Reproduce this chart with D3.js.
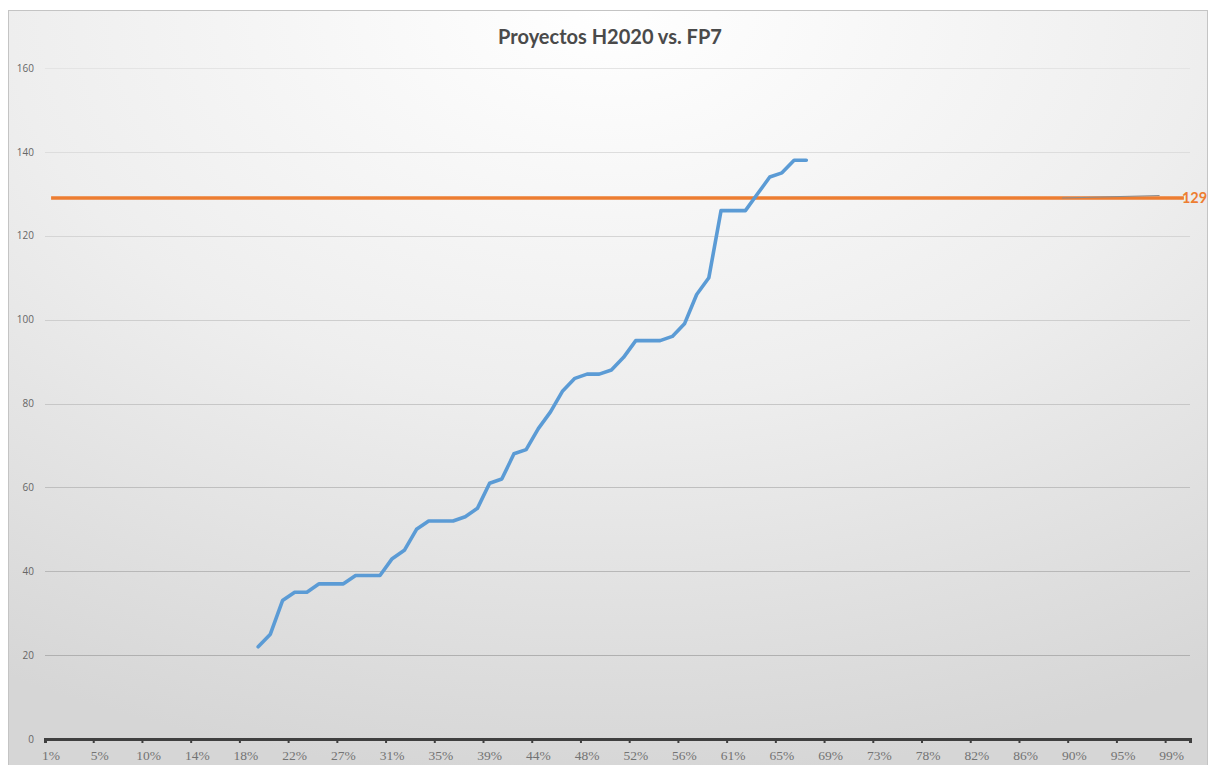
<!DOCTYPE html>
<html>
<head>
<meta charset="utf-8">
<script src="https://cdn.jsdelivr.net/npm/d3@7"></script>
<style>
  body { margin: 0; background: #fff; }
  svg { display: block; }
</style>
</head>
<body>
<div id="chart"></div>
<script>
// x categories: share of the programme elapsed
var categories = ["1%","2%","3%","4%","5%","6%","7%","9%","10%","11%","12%","13%","14%","15%","16%","17%",
  "18%","19%","20%","21%","22%","23%","24%","26%","27%","28%","29%","30%","31%","32%","33%","34%",
  "35%","36%","37%","38%","39%","40%","41%","43%","44%","45%","46%","47%","48%","49%","50%","51%",
  "52%","53%","54%","55%","56%","57%","59%","60%","61%","62%","63%","64%","65%","66%","67%","68%",
  "69%","70%","71%","72%","73%","74%","76%","77%","78%","79%","80%","81%","82%","83%","84%","85%",
  "86%","87%","88%","89%","90%","91%","93%","94%","95%","96%","97%","98%","99%","100%"];

var xTickLabels = ["1%","5%","10%","14%","18%","22%","27%","31%","35%","39%","44%","48%",
  "52%","56%","61%","65%","69%","73%","78%","82%","86%","90%","95%","99%"];

var yTicks = [0, 20, 40, 60, 80, 100, 120, 140, 160];

// H2020 projects, starting at category "19%"
var h2020From = "19%";
var h2020Values = [22, 25, 33, 35, 35, 37, 37, 37, 39, 39, 39, 43, 45, 50, 52, 52, 52, 53, 55, 61,
  62, 68, 69, 74, 78, 83, 86, 87, 87, 88, 91, 95, 95, 95, 96, 99, 106, 110, 126, 126, 126,
  130, 134, 135, 138, 138];

// FP7 total (flat reference line) and its label leader
var fp7Total = 129;
var leaderCats = ["89%", "98%"];
var leaderValues = [129, 129.6];

var title = "Proyectos H2020 vs. FP7";

var W = 1212, H = 765;
var svg = d3.select("#chart").append("svg")
    .attr("width", W)
    .attr("height", H);

var defs = svg.append("defs");
var bg = defs.append("radialGradient")
    .attr("id", "bg")
    .attr("cx", 0.5).attr("cy", 0).attr("r", 1);
bg.append("stop").attr("offset", 0).attr("stop-color", "#ffffff");
bg.append("stop").attr("offset", 0.5).attr("stop-color", "#eeeeee");
bg.append("stop").attr("offset", 1).attr("stop-color", "#d6d6d6");

// chart frame
svg.append("rect")
    .attr("x", 8.5).attr("y", 10.5)
    .attr("width", 1199).attr("height", 770)
    .attr("fill", "url(#bg)")
    .attr("stroke", "#c4c4c4")
    .attr("stroke-width", 1);

var x = d3.scaleBand()
    .domain(categories)
    .range([45, 1190])
    .padding(0);
var bw = x.bandwidth();
function cx(c) { return x(c) + bw / 2; }

var y = d3.scaleLinear()
    .domain([0, 160])
    .range([739, 68]);

// gridlines, darker towards the bottom as in the original
var gridColor = d3.interpolateRgb("#e4e4e4", "#a9a9a9");
svg.append("g")
  .selectAll("line")
  .data(yTicks.filter(function(d) { return d > 0; }))
  .enter().append("line")
    .attr("x1", 45).attr("x2", 1190)
    .attr("y1", function(d) { return Math.round(y(d)) + 0.5; })
    .attr("y2", function(d) { return Math.round(y(d)) + 0.5; })
    .attr("stroke", function(d) { return gridColor(1 - d / 160); })
    .attr("stroke-width", 1.2);

// y axis labels
var yAxis = svg.append("g")
    .attr("transform", "translate(45,0)")
    .call(d3.axisLeft(y).tickValues(yTicks).tickSize(0).tickPadding(11));
yAxis.select(".domain").remove();
yAxis.selectAll("text")
    .attr("fill", "#666")
    .style("font-family", "'Open Sans', sans-serif")
    .style("font-size", "10px");

// x axis: ticks on category boundaries, labels on category centres
var xAxis = svg.append("g")
    .attr("transform", "translate(0,739)")
    .call(d3.axisBottom(x).tickValues(xTickLabels).tickSizeOuter(0).tickSize(4).tickPadding(7));
xAxis.select(".domain")
    .attr("stroke", "#3f3f3f")
    .attr("stroke-width", 3);
xAxis.selectAll(".tick line")
    .attr("x1", -bw / 2).attr("x2", -bw / 2)
    .attr("stroke", "#3f3f3f")
    .attr("stroke-width", 2);
xAxis.selectAll("text")
    .attr("fill", "#737373")
    .style("font-family", "'Liberation Serif', 'Times New Roman', serif")
    .style("font-size", "13.5px");

var line = d3.line()
    .x(function(d) { return cx(d.c); })
    .y(function(d) { return y(d.v); });

// FP7 reference line
svg.append("path")
    .datum([{ c: categories[0], v: fp7Total }, { c: categories[categories.length - 1], v: fp7Total }])
    .attr("d", line)
    .attr("fill", "none")
    .attr("stroke", "#ED7D31")
    .attr("stroke-width", 3.6);

// label leader line
svg.append("path")
    .datum(leaderCats.map(function(c, i) { return { c: c, v: leaderValues[i] }; }))
    .attr("d", line)
    .attr("fill", "none")
    .attr("stroke", "#8c8c8c")
    .attr("stroke-width", 1.2);

// H2020 series
var start = categories.indexOf(h2020From);
var h2020 = h2020Values.map(function(v, i) { return { c: categories[start + i], v: v }; });
svg.append("path")
    .datum(h2020)
    .attr("d", line)
    .attr("fill", "none")
    .attr("stroke", "#5B9BD5")
    .attr("stroke-width", 3.6)
    .attr("stroke-linejoin", "round")
    .attr("stroke-linecap", "round");

// data label
svg.append("text")
    .attr("x", cx(categories[categories.length - 1]) - 2)
    .attr("y", y(fp7Total) + 5)
    .attr("fill", "#ED7D31")
    .style("font-family", "Lato, sans-serif")
    .style("font-weight", "bold")
    .style("font-size", "14.5px")
    .text(fp7Total);

// title
svg.append("text")
    .attr("x", 610)
    .attr("y", 44)
    .attr("text-anchor", "middle")
    .attr("fill", "#4a4a4a")
    .style("font-family", "Lato, sans-serif")
    .style("font-weight", "bold")
    .style("font-size", "20px")
    .text(title);
</script>
</body>
</html>
